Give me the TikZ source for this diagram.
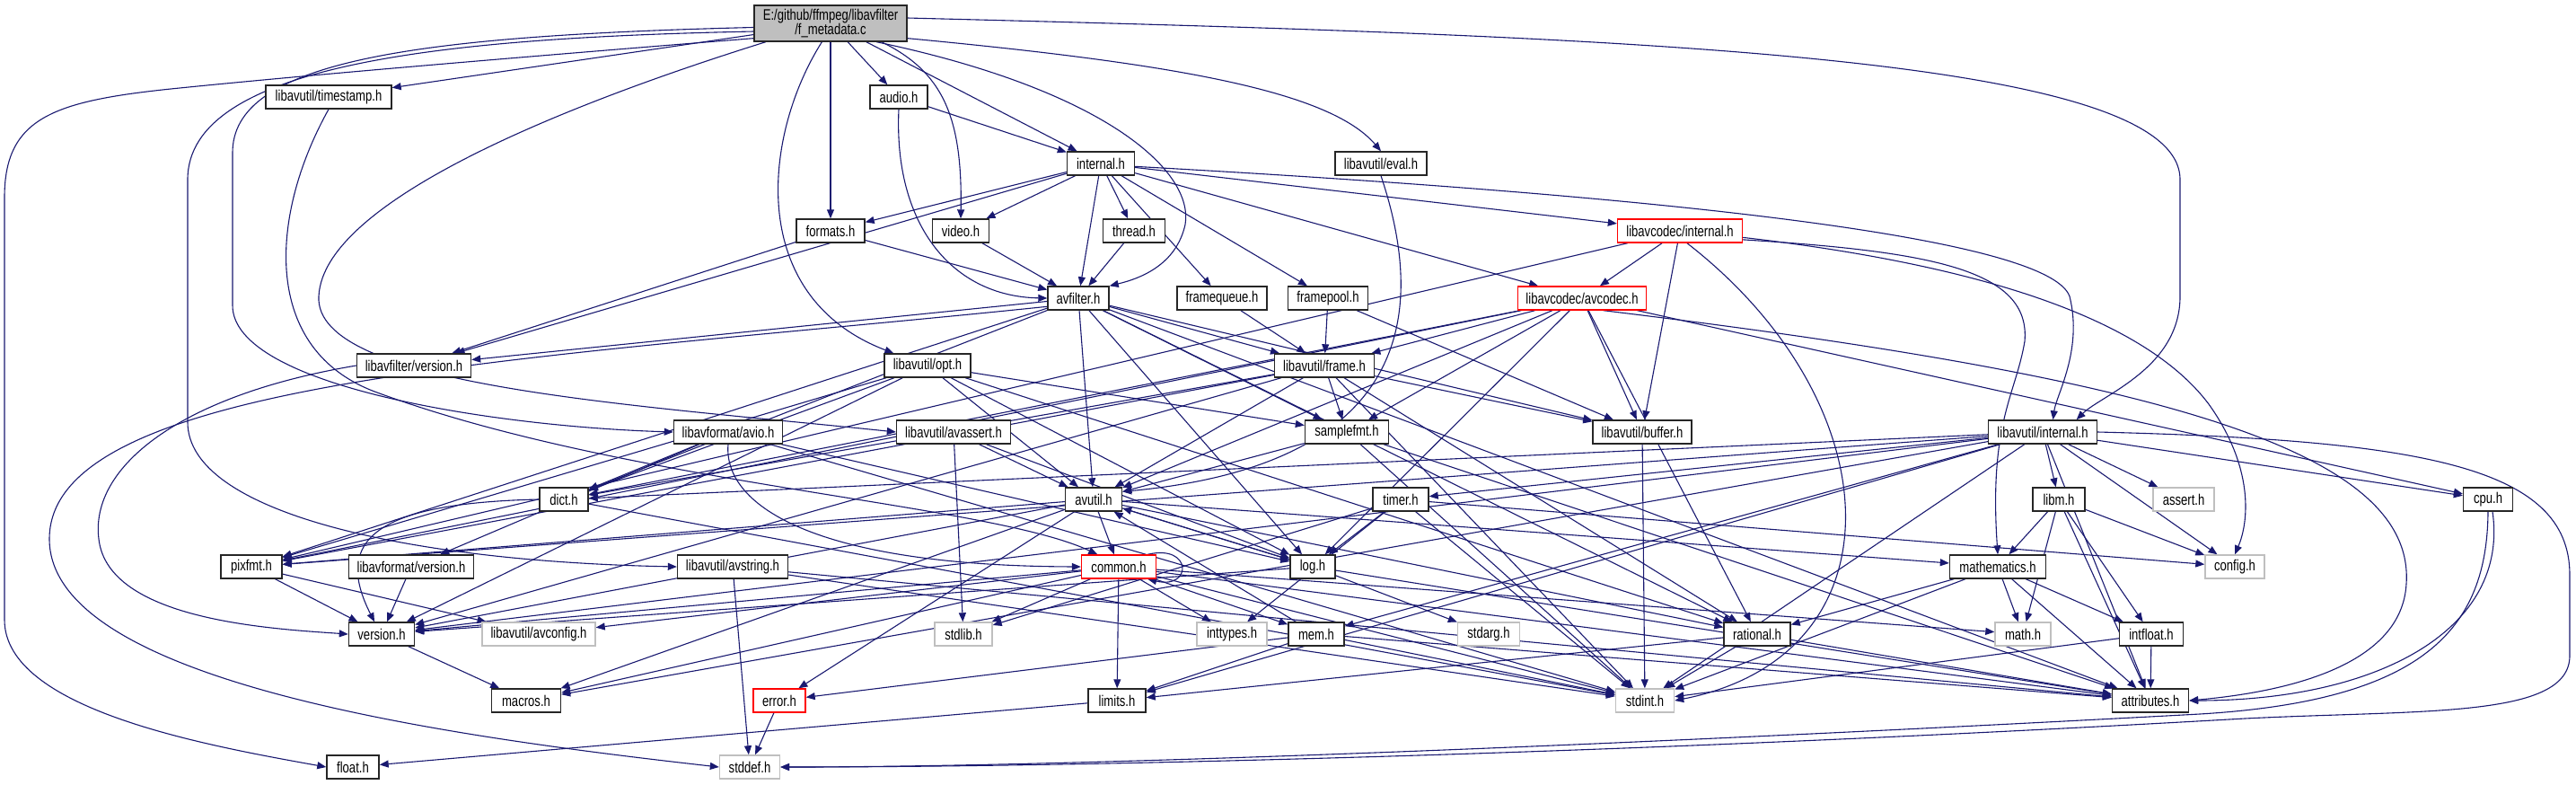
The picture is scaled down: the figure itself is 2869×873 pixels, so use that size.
\documentclass[tikz,border=0pt]{standalone}
\usepackage{fontspec}
\newfontfamily\dxfont[FakeStretch=0.77]{Liberation Sans}
\usetikzlibrary{arrows.meta,backgrounds}
\definecolor{edgeblue}{RGB}{25,25,112}
\tikzset{
  hdr/.style={draw=black!85, line width=1.4pt, fill=white, minimum height=26pt,
    inner sep=0pt, font=\dxfont\fontsize{17}{15}\selectfont},
  hdrred/.style={hdr, draw=red},
  hdrsys/.style={hdr, draw=black!25},
  root/.style={hdr, fill=black!25, align=center},
  inc/.style={draw=edgeblue, line width=1.1pt, -{Triangle[length=10pt,width=8pt]}}
}
\begin{document}
\begin{tikzpicture}[x=1pt,y=-1pt]
  \useasboundingbox (0,0) rectangle (2869,873);

  % wurzel
  \node[root, minimum width=170pt, minimum height=40pt] (meta) at (925,26) {E:/github/ffmpeg/libavfilter\\/f\_metadata.c};

  % zeilen 1-4
  \node[hdr, minimum width=140pt] (tstamp) at (366,108) {libavutil/timestamp.h};
  \node[hdr, minimum width=64pt] (audio) at (1001,108) {audio.h};
  \node[hdr, minimum width=75pt] (fint) at (1226,182) {internal.h};
  \node[hdr, minimum width=102pt] (eval) at (1538,182) {libavutil/eval.h};
  \node[hdr, minimum width=76pt] (formats) at (925,257) {formats.h};
  \node[hdr, minimum width=63pt] (video) at (1070,257) {video.h};
  \node[hdr, minimum width=69pt] (thread) at (1263,257) {thread.h};
  \node[hdrred, minimum width=139pt] (lavcint) at (1871,257) {libavcodec/internal.h};
  \node[hdr, minimum width=68pt] (avfilter) at (1201,332) {avfilter.h};
  \node[hdr, minimum width=100pt] (fqueue) at (1361,332) {framequeue.h};
  \node[hdr, minimum width=89pt] (fpool) at (1479,332) {framepool.h};
  \node[hdrred, minimum width=143pt] (avcodec) at (1762,332) {libavcodec/avcodec.h};

  % zeilen 5-7
  \node[hdr, minimum width=127pt] (lavfiver) at (461,407) {libavfilter/version.h};
  \node[hdr, minimum width=96pt] (opt) at (1033,407) {libavutil/opt.h};
  \node[hdr, minimum width=111pt] (frame) at (1475,407) {libavutil/frame.h};
  \node[hdr, minimum width=121pt] (avio) at (811,481) {libavformat/avio.h};
  \node[hdr, minimum width=127pt] (avassert) at (1062,481) {libavutil/avassert.h};
  \node[hdr, minimum width=93pt] (samplefmt) at (1500,481) {samplefmt.h};
  \node[hdr, minimum width=110pt] (buffer) at (1829,481) {libavutil/buffer.h};
  \node[hdr, minimum width=121pt] (lavuint) at (2275,481) {libavutil/internal.h};
  \node[hdr, minimum width=54pt] (dict) at (628,556) {dict.h};
  \node[hdr, minimum width=63pt] (avutil) at (1218,556) {avutil.h};
  \node[hdr, minimum width=62pt] (timer) at (1560,556) {timer.h};
  \node[hdr, minimum width=58pt] (libm) at (2293,556) {libm.h};
  \node[hdrsys, minimum width=68pt] (assert) at (2432,556) {assert.h};
  \node[hdr, minimum width=55pt] (cpu) at (2771,556) {cpu.h};

  % zeilen 8-9
  \node[hdr, minimum width=68pt] (pixfmt) at (280,631) {pixfmt.h};
  \node[hdr, minimum width=139pt] (lavfver) at (458,631) {libavformat/version.h};
  \node[hdr, minimum width=123pt] (avstring) at (816,631) {libavutil/avstring.h};
  \node[hdrred, minimum width=83pt] (common) at (1246,631) {common.h};
  \node[hdr, minimum width=50pt] (log) at (1462,631) {log.h};
  \node[hdr, minimum width=107pt] (mathem) at (2225,631) {mathematics.h};
  \node[hdrsys, minimum width=66pt] (config) at (2489,631) {config.h};
  \node[hdr, minimum width=73pt] (version) at (425,706) {version.h};
  \node[hdrsys, minimum width=126pt] (avconfig) at (600,706) {libavutil/avconfig.h};
  \node[hdrsys, minimum width=64pt] (stdlib) at (1073,706) {stdlib.h};
  \node[hdrsys, minimum width=78pt] (inttypes) at (1372,706) {inttypes.h};
  \node[hdr, minimum width=62pt] (mem) at (1466,706) {mem.h};
  \node[hdrsys, minimum width=69pt] (stdarg) at (1658,706) {stdarg.h};
  \node[hdr, minimum width=74pt] (rational) at (1957,706) {rational.h};
  \node[hdrsys, minimum width=62pt] (math) at (2253,706) {math.h};
  \node[hdr, minimum width=71pt] (intfloat) at (2396,706) {intfloat.h};

  % zeilen 10-11
  \node[hdr, minimum width=77pt] (macros) at (586,780) {macros.h};
  \node[hdrred, minimum width=58pt] (error) at (868,780) {error.h};
  \node[hdr, minimum width=64pt] (limits) at (1244,780) {limits.h};
  \node[hdrsys, minimum width=65pt] (stdint) at (1832,780) {stdint.h};
  \node[hdr, minimum width=85pt] (attrib) at (2395,780) {attributes.h};
  \node[hdr, minimum width=58pt] (float) at (393,854) {float.h};
  \node[hdrsys, minimum width=67pt] (stddef) at (835,854) {stddef.h};

  \begin{scope}[on background layer]
  % f_metadata.c
  \foreach \t in {tstamp,audio,formats,fint}
    \draw[inc] (meta) -- (\t);
  \draw[inc] (meta.191) .. controls (500,70) and (330,85) .. (200,98)
    .. controls (60,112) and (5,130) .. (5,220) -- (5,690)
    .. controls (5,790) and (230,830) .. (float.west);
  \draw[inc] (meta.186) .. controls (500,42) and (209,70) .. (209,200) -- (209,470)
    .. controls (209,570) and (450,625) .. (avstring.west);
  \draw[inc] (meta.183) .. controls (450,40) and (259,70) .. (259,170) -- (259,340)
    .. controls (259,430) and (550,475) .. (avio.west);
  \draw[inc] (meta.196) .. controls (650,110) and (360,220) .. (355,330)
    .. controls (350,430) and (700,450) .. (avassert.west);
  \draw[inc] (meta.245) .. controls (850,150) and (830,330) .. (opt.160);
  \draw[inc] (meta.340) .. controls (1050,80) and (1072,130) .. (video.north);
  \draw[inc] (meta.338) .. controls (1230,100) and (1330,190) .. (1320,250)
    .. controls (1310,295) and (1270,310) .. (avfilter.north east);
  \draw[inc] (meta.349) .. controls (1300,70) and (1480,100) .. (eval.north);
  \draw[inc] (meta.4) .. controls (1800,40) and (2428,60) .. (2428,200) -- (2428,330)
    .. controls (2428,410) and (2340,440) .. (lavuint.20);

  % libavfilter
  \draw[inc] (tstamp.south) .. controls (300,240) and (290,390) .. (420,437)
    .. controls (700,540) and (1100,560) .. (common.150);
  \draw[inc] (audio) -- (fint);
  \draw[inc] (audio.south) .. controls (995,250) and (1060,330) .. (avfilter.west);
  \draw[inc] (eval.south) .. controls (1600,380) and (1540,520) .. (avutil.15);
  \foreach \t in {formats,video,thread,avfilter,fqueue,fpool,avcodec,lavcint,lavfiver}
    \draw[inc] (fint) -- (\t);
  \draw[inc] (fint.355) .. controls (1800,215) and (2280,260) .. (2305,330)
    .. controls (2320,390) and (2290,440) .. (lavuint.50);
  \foreach \t in {avfilter,lavfiver}
    \draw[inc] (formats) -- (\t);
  \draw[inc] (video) -- (avfilter);
  \draw[inc] (thread) -- (avfilter);
  \foreach \t in {lavfiver,attrib,avutil,buffer,dict,frame,log,samplefmt,pixfmt,rational}
    \draw[inc] (avfilter) -- (\t);
  \draw[inc] (avfilter.195) .. controls (600,400) and (55,420) .. (55,600)
    .. controls (55,760) and (500,820) .. (stddef.west);
  \draw[inc] (fqueue) -- (frame);
  \foreach \t in {frame,buffer}
    \draw[inc] (fpool) -- (\t);
  \draw[inc] (lavfiver.west) .. controls (200,440) and (100,520) .. (110,600)
    .. controls (120,690) and (300,700) .. (version.west);

  % libavcodec
  \foreach \t in {avcodec,buffer,pixfmt}
    \draw[inc] (lavcint) -- (\t);
  \draw[inc] (lavcint.352) .. controls (2150,280) and (2262,300) .. (2255,380)
    .. controls (2245,440) and (2215,470) .. (mathem.north);
  \draw[inc] (lavcint.354) .. controls (2250,300) and (2400,370) .. (2460,450)
    .. controls (2510,520) and (2505,580) .. (config.north);
  \draw[inc] (lavcint.300) .. controls (2110,450) and (2120,730) .. (stdint.east);
  \foreach \t in {frame,samplefmt,buffer,avutil,dict,log,pixfmt,rational,cpu}
    \draw[inc] (avcodec) -- (\t);
  \draw[inc] (avcodec.330) .. controls (2400,420) and (2690,500) .. (2680,650)
    .. controls (2675,740) and (2550,770) .. (attrib.east);

  % libavutil, libavformat
  \foreach \t in {rational,avutil,dict,log,pixfmt,samplefmt,version}
    \draw[inc] (opt) -- (\t);
  \foreach \t in {stdint,avutil,buffer,dict,rational,samplefmt,pixfmt,version}
    \draw[inc] (frame) -- (\t);
  \foreach \t in {dict,log,lavfver,stdint}
    \draw[inc] (avio) -- (\t);
  \draw[inc] (avio.south) .. controls (805,560) and (900,630) .. (common.west);
  \foreach \t in {stdlib,avutil,log}
    \draw[inc] (avassert) -- (\t);
  \foreach \t in {stddef,stdint,attrib}
    \draw[inc] (avstring) -- (\t);
  \foreach \t in {stdint,avutil,attrib}
    \draw[inc] (samplefmt) -- (\t);
  \draw[inc] (buffer) -- (stdint);
  \foreach \t in {limits,stdint,assert,config,attrib,timer,cpu,dict,macros,mem,pixfmt,version,libm}
    \draw[inc] (lavuint) -- (\t);
  \draw[inc] (lavuint.east) .. controls (2700,490) and (2862,520) .. (2862,640) -- (2862,730)
    .. controls (2862,800) and (2700,790) .. (2500,800)
    .. controls (1800,840) and (1200,854) .. (stddef.east);
  \draw[inc] (dict) -- (stdint);
  \draw[inc] (dict.west) .. controls (420,560) and (370,600) .. (version.120);
  \foreach \t in {common,error,macros,mathem,rational,version,log,pixfmt}
    \draw[inc] (avutil) -- (\t);
  \foreach \t in {config,stdlib,stdint,inttypes,log}
    \draw[inc] (timer) -- (\t);
  \foreach \t in {math,config,attrib,intfloat,mathem}
    \draw[inc] (libm) -- (\t);
  \draw[inc] (cpu.south) .. controls (2770,700) and (2700,780) .. (2450,795)
    .. controls (1800,830) and (1200,854) .. (stddef.east);
  \draw[inc] (cpu.290) .. controls (2795,700) and (2650,780) .. (attrib.east);
  \foreach \t in {avconfig,version}
    \draw[inc] (pixfmt) -- (\t);
  \draw[inc] (lavfver) -- (version);
  \foreach \t in {stdlib,inttypes,limits,math,stdint,attrib,macros,version,avconfig,mem}
    \draw[inc] (common) -- (\t);
  \draw[inc] ([xshift=-10pt]common.north east) .. controls +(50,-12) and +(50,12) .. ([xshift=-10pt]common.south east);
  \foreach \t in {stdarg,avutil,attrib,version}
    \draw[inc] (log) -- (\t);
  \foreach \t in {stdint,math,attrib,rational,intfloat}
    \draw[inc] (mathem) -- (\t);
  \draw[inc] (version) -- (macros);
  \foreach \t in {limits,stdint,attrib,error,avutil}
    \draw[inc] (mem) -- (\t);
  \foreach \t in {stdint,limits,attrib}
    \draw[inc] (rational) -- (\t);
  \foreach \t in {stdint,attrib}
    \draw[inc] (intfloat) -- (\t);
  \draw[inc] (error) -- (stddef);
  \draw[inc] (limits) -- (float);
  \end{scope}
\end{tikzpicture}
\end{document}
